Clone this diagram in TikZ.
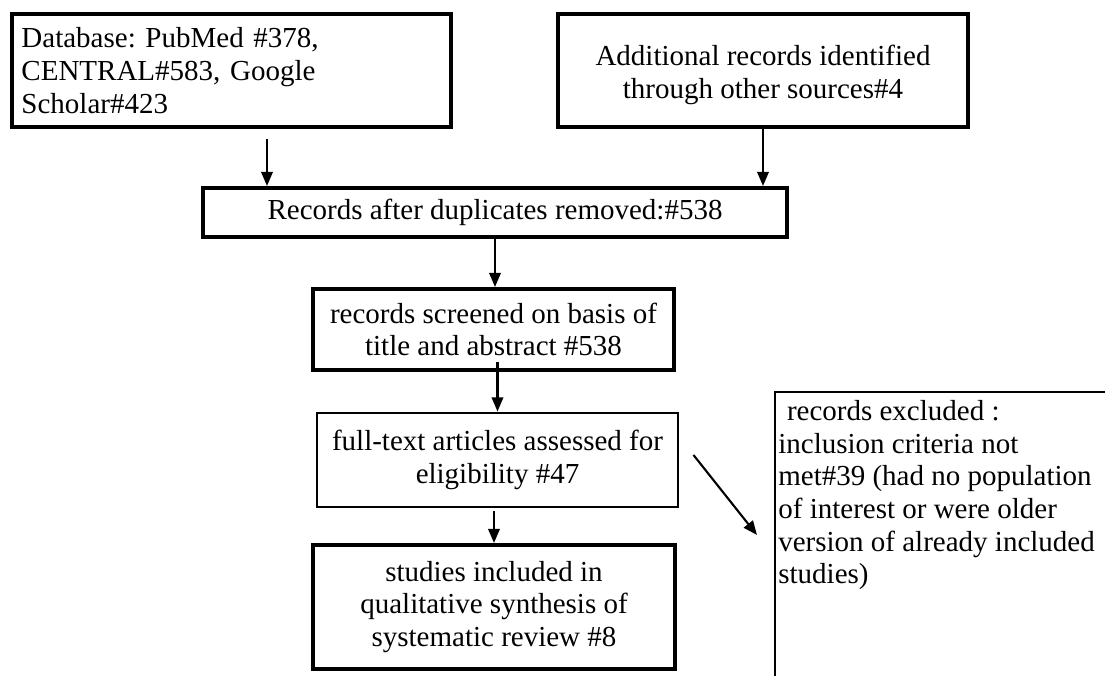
\documentclass[tikz,border=0pt]{standalone}
\usepackage{fontspec}
\setmainfont{Liberation Serif}
\frenchspacing
\usetikzlibrary{arrows.meta}
\tikzset{>={Stealth[length=8pt,width=6.5pt,inset=0pt]}}
\tikzset{
  txt/.style={font=\fontsize{16.5}{18.6}\selectfont},
  box/.style={txt,draw,line width=2.3pt,inner sep=0pt,align=center},
  thinbox/.style={box,line width=1.7pt},
  link/.style={->,line width=1.2pt}
}

\begin{document}
\begin{tikzpicture}
    \useasboundingbox (0,0) rectangle (22.1,13.5);
    \clip (0,0) rectangle (22.1,13.5);

    \node (db) at (4.63,12.09) [box,minimum width=8.78cm,minimum height=2.26cm,text width=8.4cm,align=left]
      {Database: PubMed \#378,\\ CENTRAL\#583, Google\\ Scholar\#423};
    \node (add) at (15.26,12.09) [box,minimum width=8.2cm,minimum height=2.26cm,text height=1.25cm]
      {Additional records identified\\ through other sources\#4};
    \node (dup) at (9.9,9.25) [box,minimum width=11.68cm,minimum height=0.98cm]
      {Records after duplicates removed:\#538};
    \node (scr) at (9.87,6.91) [box,minimum width=7.22cm,minimum height=1.62cm]
      {records screened on basis of\\ title and abstract \#538};
    \node (full) at (9.95,4.3) [thinbox,minimum width=7.22cm,minimum height=1.88cm]
      {full-text articles assessed for\\ eligibility \#47};
    \node (incl) at (9.88,1.36) [box,minimum width=7.24cm,minimum height=2.48cm]
      {studies included in\\ qualitative synthesis of\\ systematic review \#8};
    \node (excl) at (15.5,5.66) [txt,anchor=north west,inner xsep=0.06cm,inner ysep=0.16cm,align=left]
      {\hspace*{0.3em}records excluded :\\ inclusion criteria not\\ met\#39 (had no population\\
       of interest or were older\\ version of already included\\ studies)};
    \draw [line width=1.7pt] (excl.north west) rectangle ++(7,-7);

    \coordinate (dbout) at ([shift={(0.71,-0.2)}]db.south);
    \draw [link] (dbout) -- (dbout |- dup.north);
    \draw [link] (add.south) -- (add.south |- dup.north);
    \draw [link] (dup.south) -- (dup.south |- scr.north);
    \draw [link] ([yshift=0.2cm]scr.south -| full.north) -- (full.north);
    \draw [link] ([yshift=-0.06cm]full.south -| incl.north) -- (incl.north);
    \draw [link] ([shift={(0.28,0.1)}]full.east) -- ([shift={(-0.36,-2.86)}]excl.north west);
\end{tikzpicture}
\end{document}
